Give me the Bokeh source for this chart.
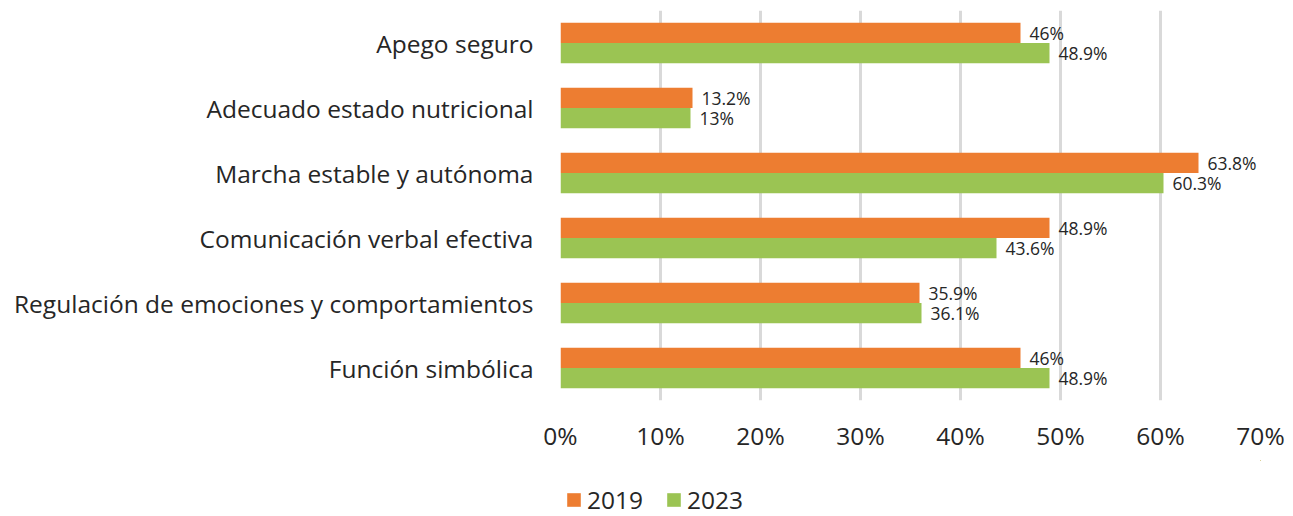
from bokeh.plotting import figure
from bokeh.layouts import column
from bokeh.models import FactorRange, ColumnDataSource, Legend, LegendItem, NumeralTickFormatter, FixedTicker
from bokeh.transform import dodge
from bokeh.core.properties import value
from bokeh.embed import file_html
from bokeh.resources import INLINE

categories = ["Apego seguro", "Adecuado estado nutricional", "Marcha estable y autónoma",
              "Comunicación verbal efectiva", "Regulación de emociones y comportamientos",
              "Función simbólica"]
v2019 = [46, 13.2, 63.8, 48.9, 35.9, 46]
v2023 = [48.9, 13, 60.3, 43.6, 36.1, 48.9]
series_names = ["2019", "2023"]
ticks = [0, 10, 20, 30, 40, 50, 60, 70]

def fmt(v):
    s = ("%.1f" % v).rstrip("0").rstrip(".")
    return s + "%"

FONT = "Open Sans"
TXT = "#262626"
ORANGE = "#ED7D31"
GREEN = "#9BC453"

src = ColumnDataSource(dict(cat=categories, a=v2019, b=v2023,
                            la=[fmt(v) for v in v2019], lb=[fmt(v) for v in v2023]))

p = figure(width=1285, height=460, output_backend="svg", toolbar_location=None,
           y_range=FactorRange(*list(reversed(categories)), range_padding=0),
           x_range=(0, 70))
p.min_border_left = 560
p.min_border_right = 25
p.min_border_top = 10
p.min_border_bottom = 60
p.outline_line_color = None
p.background_fill_color = "white"

r1 = p.hbar(y=dodge("cat", 0.155, range=p.y_range), right="a", left=0, height=0.31,
            source=src, color=ORANGE, line_color=None)
r2 = p.hbar(y=dodge("cat", -0.155, range=p.y_range), right="b", left=0, height=0.31,
            source=src, color=GREEN, line_color=None)

p.text(x="a", y=dodge("cat", 0.155, range=p.y_range), text="la", source=src,
       x_offset=9, text_baseline="middle", text_font=value(FONT), text_font_size="17.5px",
       text_color=TXT)
p.text(x="b", y=dodge("cat", -0.155, range=p.y_range), text="lb", source=src,
       x_offset=9, text_baseline="middle", text_font=value(FONT), text_font_size="17.5px",
       text_color=TXT)

p.xaxis.ticker = FixedTicker(ticks=ticks)
p.xaxis.formatter = NumeralTickFormatter(format="0")
p.xaxis.major_label_overrides = {t: f"{t}%" for t in ticks}
for ax in (p.xaxis, p.yaxis):
    ax.axis_line_color = None
    ax.major_tick_line_color = None
    ax.minor_tick_line_color = None
    ax.major_label_text_font = FONT
    ax.major_label_text_font_size = "24.5px"
    ax.major_label_text_color = TXT
p.xaxis.major_label_standoff = 12
p.yaxis.major_label_standoff = 21

p.xgrid.grid_line_color = "#D9D9D9"
p.xgrid.grid_line_width = 3
p.ygrid.grid_line_color = None

# legend strip (its zero-height proxy bars lie outside the strip's visible range)
p2 = figure(width=1285, height=56, output_backend="svg", toolbar_location=None,
            x_range=(-2, -1), y_range=(-2, -1), x_axis_location=None, y_axis_location=None,
            min_border=0)
p2.outline_line_color = None
p2.grid.visible = False
d1 = p2.hbar(y="a", right="a", left=0, height=0, source=src, color=ORANGE, line_color=None)
d2 = p2.hbar(y="b", right="b", left=0, height=0, source=src, color=GREEN, line_color=None)
legend = Legend(items=[LegendItem(label=series_names[0], renderers=[d1]),
                       LegendItem(label=series_names[1], renderers=[d2])],
                orientation="horizontal", location=(5, 0),
                label_text_font=FONT, label_text_font_size="24.5px", label_text_color=TXT,
                glyph_width=17, glyph_height=17, spacing=22, label_standoff=5,
                background_fill_alpha=0, border_line_color=None, padding=0, margin=0)
p2.add_layout(legend, "center")

open("out.html", "w").write(file_html(column(p, p2, spacing=0), INLINE))
